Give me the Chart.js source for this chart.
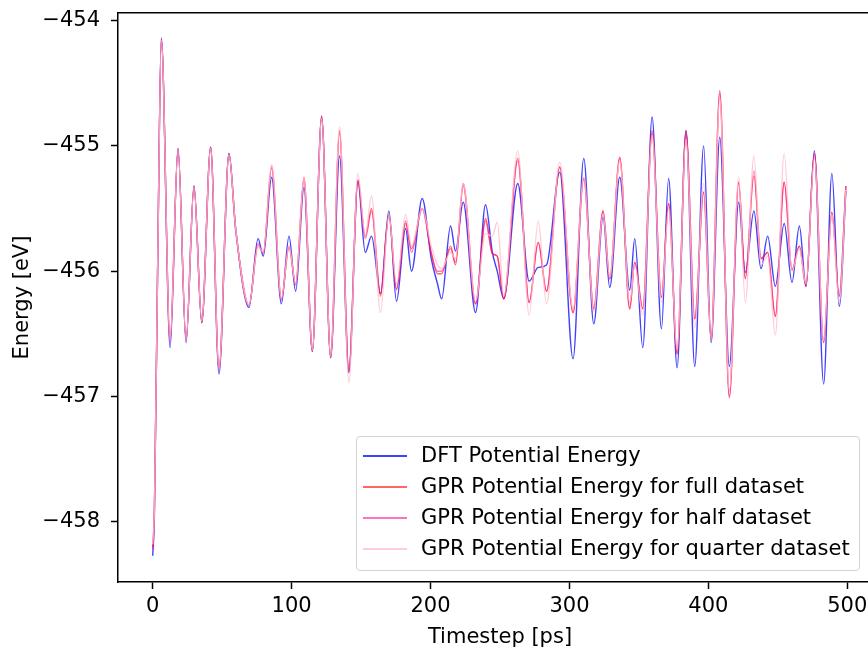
<!DOCTYPE html>
<html>
<head>
<meta charset="utf-8">
<script src="https://cdn.jsdelivr.net/npm/chart.js@4.4.0/dist/chart.umd.min.js"></script>
<style>
  html, body { margin: 0; padding: 0; background: #fff; overflow: hidden; }
  #contenedor { position: absolute; left: 0; top: 0; width: 884px; height: 660px; }
  #leyenda { position: absolute; left: 356px; top: 436px; width: 504px; height: 135px;
    border: 1px solid #d3d3d3; border-radius: 4px; background: rgba(255,255,255,0.8);
    box-sizing: border-box; font-family: 'DejaVu Sans'; font-size: 21px; color: #000; }
  .fila { position: absolute; left: 0; width: 100%; height: 31px; line-height: 31px; white-space: nowrap; }
  .muestra { position: absolute; left: 6px; top: 15px; width: 44px; height: 1.5px; }
  .texto { position: absolute; left: 64px; top: 0; }
</style>
</head>
<body>
<div id="contenedor"><canvas id="graficaEnergia" width="884" height="660"></canvas></div>
<div id="leyenda"></div>
<script>
// Tiempos (ps) de los puntos
var pasos = [
  0, 1.2, 3.5, 6.2, 12.5, 18.2, 24, 29.7, 35.3, 41.7,
  47.7, 54.9, 59.7, 69.3, 75.8, 79.6, 85.6, 92.6, 98.1, 102.9,
  108.9, 114.9, 121.6, 128.1, 134.5, 141.2, 147.7, 153, 157.5, 164,
  170, 175.5, 182, 186.3, 194, 200.5, 205, 208, 214.4, 218,
  223.5, 232.4, 239.6, 244.5, 248, 252.7, 262.8, 271, 277.5, 283.5,
  293, 302.6, 310.3, 317.5, 324.2, 329, 336.2, 343.4, 347, 352.8,
  359.5, 366.2, 371.4, 377.5, 383.9, 390.2, 396.6, 402, 408.2, 415.1,
  421.8, 426.6, 432.8, 437.9, 442.7, 448.2, 454.6, 460.2, 465.5, 470.3,
  476.3, 483, 488.9, 494.2, 499
];

// Energía potencial (eV) de cada serie
var energiaDFT = [
  -458.27, -457.95, -456.0, -454.14, -456.61, -455.02, -456.57, -455.32, -456.41, -455.01,
  -456.82, -455.06, -455.66, -456.29, -455.74, -455.88, -455.25, -456.26, -455.72, -456.16,
  -455.33, -456.64, -454.77, -456.69, -455.08, -456.81, -455.28, -455.85, -455.72, -456.18,
  -455.52, -456.24, -455.66, -456.0, -455.42, -455.9, -456.1, -456.22, -455.64, -455.84,
  -455.45, -456.33, -455.47, -455.85, -456.0, -456.22, -455.30, -456.08, -455.97, -455.95,
  -455.21, -456.70, -455.10, -456.42, -455.57, -456.13, -455.25, -456.15, -455.74, -456.61,
  -454.77, -456.46, -455.26, -456.77, -454.88, -456.76, -455.00, -456.57, -454.93, -456.76,
  -455.45, -456.01, -455.52, -455.98, -455.72, -456.12, -455.62, -456.09, -455.64, -456.12,
  -455.04, -456.90, -455.22, -456.28, -455.36
];
var energiaCompleto = [
  -458.20, -457.9, -456.0, -454.15, -456.55, -455.02, -456.55, -455.32, -456.41, -455.01,
  -456.78, -455.06, -455.66, -456.27, -455.80, -455.85, -455.16, -456.22, -455.81, -456.10,
  -455.25, -456.64, -454.76, -456.69, -454.88, -456.80, -455.28, -455.72, -455.50, -456.20,
  -455.55, -456.14, -455.62, -455.82, -455.50, -455.85, -456.02, -456.02, -455.80, -455.95,
  -455.30, -456.26, -455.58, -455.86, -455.88, -456.22, -455.10, -456.25, -455.77, -456.16,
  -455.17, -456.33, -455.26, -456.30, -455.52, -456.06, -455.09, -456.30, -455.93, -456.30,
  -454.88, -456.21, -455.46, -456.66, -454.88, -456.38, -455.37, -456.55, -454.56, -457.01,
  -455.29, -456.06, -455.24, -455.90, -455.85, -456.36, -455.29, -455.99, -455.80, -456.12,
  -455.06, -456.57, -455.53, -456.20, -455.32
];
var energiaMitad = [
  -458.22, -457.92, -456.0, -454.15, -456.56, -455.03, -456.55, -455.33, -456.40, -455.02,
  -456.78, -455.07, -455.67, -456.27, -455.78, -455.86, -455.18, -456.23, -455.80, -456.11,
  -455.27, -456.63, -454.78, -456.68, -454.90, -456.80, -455.27, -455.74, -455.52, -456.18,
  -455.55, -456.15, -455.60, -455.85, -455.50, -455.86, -456.0, -456.0, -455.82, -455.93,
  -455.32, -456.26, -455.60, -455.86, -455.88, -456.22, -455.12, -456.25, -455.77, -456.16,
  -455.17, -456.33, -455.26, -456.30, -455.52, -456.06, -455.10, -456.30, -455.93, -456.30,
  -454.90, -456.21, -455.46, -456.66, -454.90, -456.38, -455.37, -456.55, -454.58, -457.00,
  -455.29, -456.06, -455.20, -455.90, -455.85, -456.36, -455.29, -455.99, -455.80, -456.12,
  -455.06, -456.57, -455.53, -456.20, -455.32
];
var energiaCuarto = [
  -458.18, -457.9, -456.0, -454.16, -456.55, -455.03, -456.55, -455.33, -456.40, -455.02,
  -456.78, -455.07, -455.66, -456.27, -455.80, -455.85, -455.15, -456.22, -455.80, -456.10,
  -455.26, -456.63, -454.78, -456.68, -454.85, -456.89, -455.22, -455.72, -455.40, -456.33,
  -455.55, -456.10, -455.55, -455.80, -455.50, -455.80, -455.95, -455.98, -455.85, -455.90,
  -455.30, -456.24, -455.70, -455.72, -455.61, -456.20, -455.04, -456.35, -455.60, -456.26,
  -455.13, -456.30, -455.25, -456.32, -455.55, -456.05, -455.12, -456.25, -455.95, -456.35,
  -454.92, -456.25, -455.50, -456.62, -454.95, -456.45, -455.30, -456.55, -454.62, -456.95,
  -455.25, -456.25, -455.08, -455.95, -455.88, -456.51, -455.06, -456.00, -455.82, -456.10,
  -455.10, -456.55, -455.55, -456.25, -455.35
];

var etiquetas = [
  'DFT Potential Energy',
  'GPR Potential Energy for full dataset',
  'GPR Potential Energy for half dataset',
  'GPR Potential Energy for quarter dataset'
];
var colores = ['rgba(0,0,255,0.75)', 'rgba(255,0,0,0.6)', 'rgba(255,20,147,0.6)', 'rgba(255,192,203,0.8)'];
var valores = [energiaDFT, energiaCompleto, energiaMitad, energiaCuarto];

var ticksX = [0, 100, 200, 300, 400, 500];
var ticksY = [-458, -457, -456, -455, -454];

Chart.defaults.font.family = 'DejaVu Sans';
Chart.defaults.font.size = 21;
Chart.defaults.color = '#000';

// Armar los datasets a partir de los arreglos
var datasets = valores.map(function (serie, k) {
    return {
        label: etiquetas[k],
        data: serie.map(function (e, i) { return { x: pasos[i], y: e }; }),
        borderColor: colores[k],
        borderWidth: 1.4,
        pointRadius: 0,
        fill: false,
        cubicInterpolationMode: 'monotone',
        order: valores.length - 1 - k // como matplotlib: la última serie queda encima
    };
});

var ejeGrid = { display: true, drawOnChartArea: false, drawTicks: true, tickLength: 7, tickColor: '#000', tickWidth: 1.5 };
var ejeBorde = { display: true, color: '#000', width: 1.5 };

var ctx = document.getElementById('graficaEnergia').getContext('2d');
var graficaEnergia = new Chart(ctx, {
    type: 'line',
    data: { datasets: datasets },
    options: {
        responsive: false,
        animation: false,
        layout: { padding: { top: 13, right: 2, left: 0, bottom: 0 } },
        plugins: { legend: { display: false }, tooltip: { enabled: false } },
        scales: {
            x: {
                type: 'linear', min: -25, max: 525,
                afterBuildTicks: function (s) { s.ticks = ticksX.map(function (v) { return { value: v }; }); },
                ticks: { padding: 5, maxRotation: 0, autoSkip: false },
                grid: ejeGrid,
                border: ejeBorde,
                title: { display: true, text: 'Timestep [ps]', padding: { top: 0, bottom: 10 } },
                afterFit: function (s) { s.height = 78; s.paddingLeft = 0; s.paddingRight = 0; }
            },
            xArriba: {
                type: 'linear', position: 'top', min: -25, max: 525,
                ticks: { display: false },
                grid: { display: true, drawOnChartArea: false, drawTicks: false },
                border: ejeBorde,
                afterFit: function (s) { s.height = 0; s.paddingLeft = 0; s.paddingRight = 0; }
            },
            y: {
                type: 'linear', min: -458.48, max: -453.94,
                afterBuildTicks: function (s) { s.ticks = ticksY.map(function (v) { return { value: v }; }); },
                ticks: {
                    padding: 11,
                    callback: function (v) { return '\u2212' + Math.abs(v); }
                },
                grid: ejeGrid,
                border: ejeBorde,
                title: { display: true, text: 'Energy [eV]', padding: { top: 10, bottom: 0 } },
                afterFit: function (s) { s.width = 118; s.paddingTop = 0; s.paddingBottom = 0; }
            }
        }
    }
});

// Leyenda dentro del área del gráfico
var leyenda = document.getElementById('leyenda');
etiquetas.forEach(function (texto, k) {
    var fila = document.createElement('div');
    fila.className = 'fila';
    fila.style.top = (3 + k * 31.1) + 'px';
    var muestra = document.createElement('div');
    muestra.className = 'muestra';
    muestra.style.background = colores[k];
    var etiqueta = document.createElement('span');
    etiqueta.className = 'texto';
    etiqueta.textContent = texto;
    fila.appendChild(muestra);
    fila.appendChild(etiqueta);
    leyenda.appendChild(fila);
});
</script>
</body>
</html>
